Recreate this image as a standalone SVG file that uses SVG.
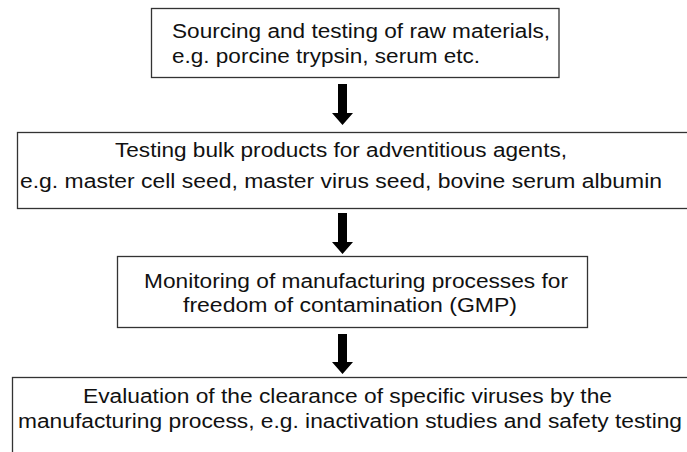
<svg xmlns="http://www.w3.org/2000/svg" width="687" height="452" viewBox="0 0 687 452">
<style>
.box{fill:#fff;stroke:#333;stroke-width:1.3}
.t{font-family:"Liberation Sans",Arial,sans-serif;font-size:20px;fill:#111}
.arr{fill:#000}
</style>
<rect width="687" height="452" fill="#fff"/>
<g id="connectors">
<path class="arr" d="M338,84 H347 V113 H353 L342.5,125 L332,113 H338 Z"/>
<path class="arr" d="M338,213 H347 V242 H353 L342.5,254 L332,242 H338 Z"/>
<path class="arr" d="M338,334 H347 V362 H353 L342.5,374 L332,362 H338 Z"/>
</g>
<g id="node1">
<rect class="box" x="151.5" y="8.5" width="407.5" height="69"/>
<text class="t" x="172" y="38" textLength="378" lengthAdjust="spacingAndGlyphs">Sourcing and testing of raw materials,</text>
<text class="t" x="172" y="63" textLength="308" lengthAdjust="spacingAndGlyphs">e.g. porcine trypsin, serum etc.</text>
</g>
<g id="node2">
<rect class="box" x="17.5" y="132.5" width="690" height="76"/>
<text class="t" x="115" y="157" textLength="452" lengthAdjust="spacingAndGlyphs">Testing bulk products for adventitious agents,</text>
<text class="t" x="20" y="188" textLength="642" lengthAdjust="spacingAndGlyphs">e.g. master cell seed, master virus seed, bovine serum albumin</text>
</g>
<g id="node3">
<rect class="box" x="117.5" y="256.5" width="470" height="71"/>
<text class="t" x="144" y="288" textLength="424" lengthAdjust="spacingAndGlyphs">Monitoring of manufacturing processes for</text>
<text class="t" x="183" y="312" textLength="334" lengthAdjust="spacingAndGlyphs">freedom of contamination (GMP)</text>
</g>
<g id="node4">
<rect class="box" x="12.5" y="377.5" width="700" height="100"/>
<text class="t" x="83" y="403" textLength="529" lengthAdjust="spacingAndGlyphs">Evaluation of the clearance of specific viruses by the</text>
<text class="t" x="18" y="428" textLength="664" lengthAdjust="spacingAndGlyphs">manufacturing process, e.g. inactivation studies and safety testing</text>
</g>
</svg>
